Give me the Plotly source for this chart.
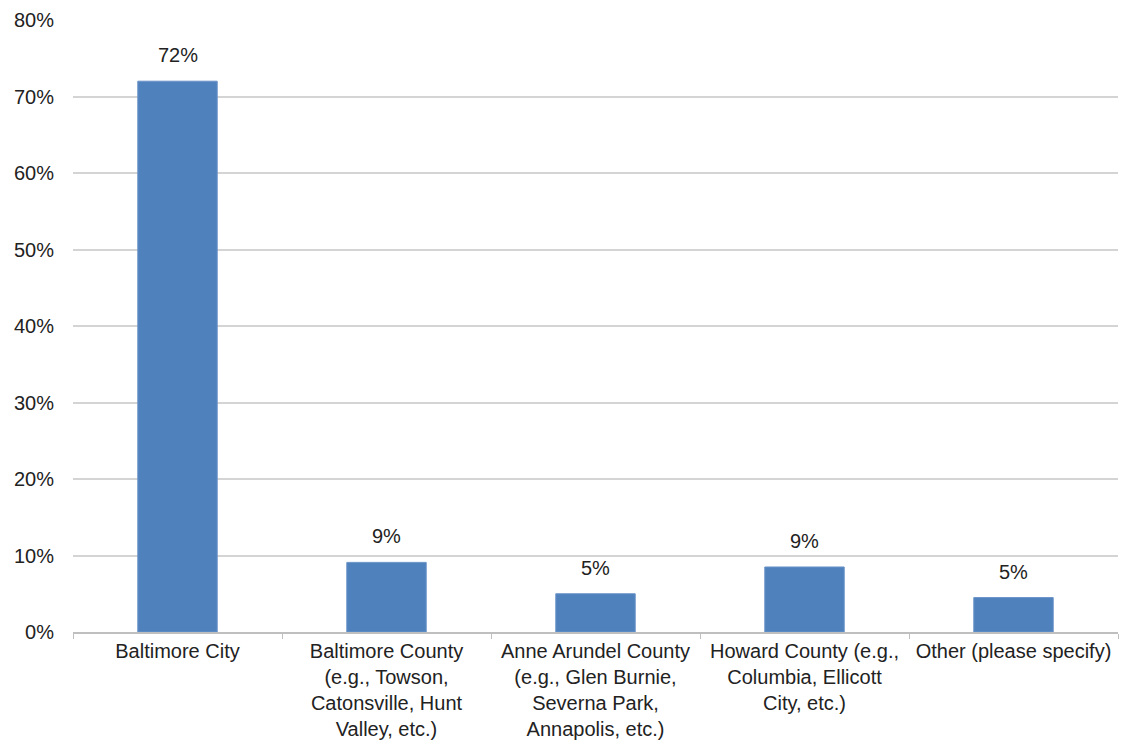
import plotly.graph_objects as go

categories = [
    "Baltimore City",
    "Baltimore County<br>(e.g., Towson,<br>Catonsville, Hunt<br>Valley, etc.)",
    "Anne Arundel County<br>(e.g., Glen Burnie,<br>Severna Park,<br>Annapolis, etc.)",
    "Howard County (e.g.,<br>Columbia, Ellicott<br>City, etc.)",
    "Other (please specify)",
]
shares = [72.0, 9.1, 5.0, 8.5, 4.5]
y_ticks = [0, 10, 20, 30, 40, 50, 60, 70, 80]

FONT = "Liberation Sans, Arial, sans-serif"
BAR = "#4F81BD"
SIZE = 20


def pct_label(v):
    # round half up, as spreadsheet labels do
    return f"{int(v + 0.5)}%"


fig = go.Figure(
    go.Bar(
        x=categories,
        y=shares,
        marker=dict(color=BAR, line=dict(color="#6A93C8", width=1)),
        width=0.38,
        hoverinfo="skip",
    )
)

# value labels above each bar
for cat, v in zip(categories, shares):
    fig.add_annotation(
        x=cat, y=v, text=pct_label(v), showarrow=False,
        yanchor="bottom", yshift=13,
        font=dict(family=FONT, size=SIZE, color="#222222"),
    )

fig.update_layout(
    width=1123, height=745,
    margin=dict(l=73, r=5, t=20, b=113),
    paper_bgcolor="white", plot_bgcolor="white",
    showlegend=False,
    font=dict(family=FONT, size=SIZE, color="#222222"),
)

fig.update_xaxes(
    showgrid=False,
    showline=True, linecolor="#BFBFBF", linewidth=1.5,
    ticks="outside", tickson="boundaries", ticklen=5, tickcolor="#BFBFBF",
    tickfont=dict(family=FONT, size=SIZE, color="#222222"),
    tickangle=0,
)

fig.update_yaxes(
    range=[0, 80],
    tickvals=y_ticks,
    ticktext=[f"{t}%" for t in y_ticks],
    showgrid=True, gridcolor="#D4D4D4", gridwidth=1.5,
    zeroline=False, showline=False, ticks="",
    ticklabelstandoff=18,
    tickfont=dict(family=FONT, size=SIZE, color="#222222"),
)

fig.write_html("out.html")
